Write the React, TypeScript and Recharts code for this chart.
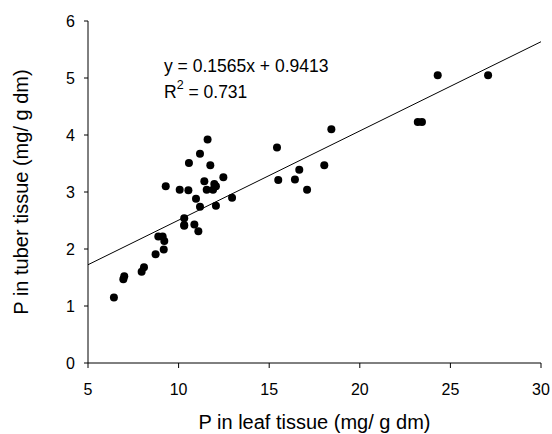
import { ScatterChart, Scatter, XAxis, YAxis, ReferenceLine, Customized } from 'recharts';

// P in leaf tissue (x) and P in tuber tissue (y), mg/ g dm
const leafP = [
  6.43, 6.95, 7.0, 7.96, 8.09, 8.73, 8.88, 9.12, 9.21, 9.18,
  10.31, 10.31, 10.31, 10.87, 11.09, 10.96, 11.18, 12.06, 12.95,
  9.29, 10.06, 10.54, 11.42, 11.55, 11.97, 12.06, 11.9, 12.47,
  11.6, 11.18, 10.57, 11.75,
  15.43, 15.5, 16.42, 16.66, 17.09, 18.04, 18.43,
  23.2, 23.43, 24.3, 27.08,
];
const tuberP = [
  1.15, 1.47, 1.52, 1.6, 1.68, 1.91, 2.22, 2.22, 2.14, 1.99,
  2.42, 2.54, 2.41, 2.43, 2.31, 2.88, 2.74, 2.76, 2.9,
  3.1, 3.04, 3.03, 3.19, 3.04, 3.14, 3.1, 3.04, 3.26,
  3.92, 3.67, 3.51, 3.47,
  3.78, 3.21, 3.22, 3.39, 3.04, 3.47, 4.1,
  4.23, 4.23, 5.05, 5.05,
];

const xTicks = [5, 10, 15, 20, 25, 30];
const yTicks = [0, 1, 2, 3, 4, 5, 6];

// regression shown on the chart
const slope = 0.1565;
const intercept = 0.9413;
const fitEnds = [5, 30];

const points = leafP.map((x, i) => ({ x, y: tuberP[i] }));

const FONT = '"Liberation Sans", Arial, sans-serif';

const Equation = () => (
  <g fontFamily={FONT} fontSize={17.5} fill="#000">
    <text x={164} y={71.5}>y = 0.1565x + 0.9413</text>
    <text x={164} y={98}>
      R<tspan fontSize={12.5} dy={-9}>2</tspan>
      <tspan dy={9}> = 0.731</tspan>
    </text>
  </g>
);

export default function App() {
  return (
    <div style={{ position: 'absolute', left: 0, top: 0, background: '#fff' }}>
      <ScatterChart
        width={552}
        height={434}
        margin={{ top: 21, right: 11, left: 0, bottom: 0 }}
        style={{ fontFamily: FONT }}
      >
        <XAxis
          type="number"
          dataKey="x"
          domain={[5, 30]}
          ticks={xTicks}
          height={71}
          stroke="#000"
          tickSize={5}
          tickMargin={16}
          tick={{ fill: '#000', fontSize: 16 }}
          label={{ value: 'P in leaf tissue (mg/ g dm)', position: 'insideBottom', offset: 5, fill: '#000', fontSize: 20 }}
        />
        <YAxis
          type="number"
          dataKey="y"
          domain={[0, 6]}
          ticks={yTicks}
          width={88}
          stroke="#000"
          tickSize={4}
          tickMargin={9}
          tick={{ fill: '#000', fontSize: 16 }}
          label={{ value: 'P in tuber tissue (mg/ g dm)', angle: -90, position: 'insideLeft', offset: 21, fill: '#000', fontSize: 20, style: { textAnchor: 'middle' } }}
        />
        <ReferenceLine
          segment={fitEnds.map((x) => ({ x, y: slope * x + intercept }))}
          stroke="#000"
          strokeWidth={1}
          ifOverflow="visible"
        />
        <Scatter data={points} fill="#000" isAnimationActive={false} shape={(p: any) => <circle cx={p.cx} cy={p.cy} r={4} fill="#000" />} />
        <Customized component={Equation} />
      </ScatterChart>
    </div>
  );
}
